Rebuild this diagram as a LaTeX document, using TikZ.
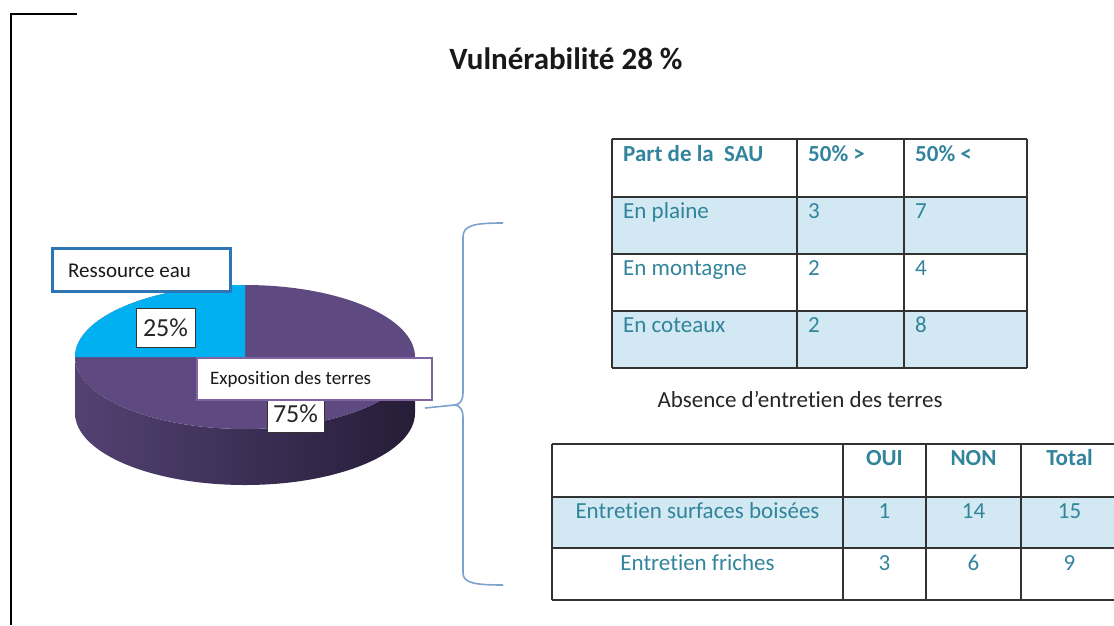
\documentclass[tikz,border=0pt]{standalone}
\usepackage{fontspec}
\setmainfont[Ligatures=NoCommon]{Carlito}
\definecolor{pietop}{RGB}{94,74,128}
\definecolor{pieblue}{RGB}{0,176,240}
\definecolor{sideL}{RGB}{84,66,114}
\definecolor{sideM}{RGB}{60,47,86}
\definecolor{sideR}{RGB}{38,29,55}
\definecolor{tabtxt}{RGB}{49,132,155}
\definecolor{tabshade}{RGB}{210,232,242}
\definecolor{tabline}{RGB}{50,50,50}
\definecolor{bracecol}{RGB}{125,162,205}
\definecolor{boxblue}{RGB}{46,117,182}
\definecolor{boxpurple}{RGB}{128,100,162}
\tikzset{
  tabtext/.style={text=tabtxt, inner sep=0pt, anchor=base west, font=\fontsize{23}{27}\selectfont},
  tabhead/.style={tabtext, font=\fontsize{23}{27}\selectfont\bfseries},
  tabctext/.style={tabtext, anchor=base},
  tabchead/.style={tabhead, anchor=base},
  gridline/.style={draw=tabline, line width=1.6pt},
  bracestyle/.style={draw=bracecol, line width=1.6pt},
  pctbox/.style={draw=black!80, line width=0.9pt, fill=white, inner sep=0pt, font=\fontsize{26}{30}\selectfont, text=black!85},
}
\begin{document}
\begin{tikzpicture}[x=1pt,y=1pt]
\useasboundingbox (0,0) rectangle (1114,-625);
% frame
\draw[line width=1.6pt, black] (77,-14) -- (11,-14) -- (11,-625);
% title
\node[font=\fontsize{31}{35}\selectfont\bfseries, text=black!90, anchor=base, inner sep=0pt] (title) at (566,-69) {Vulnérabilité 28 \%};

% ---- pie ----
\shade[left color=sideL, right color=sideR, middle color=sideM]
  (75,-357) -- ++(0,-56) arc[start angle=180, end angle=360, x radius=170, y radius=72]
  -- ++(0,56) arc[start angle=0, end angle=-180, x radius=170, y radius=72] -- cycle;
\fill[pietop] (245,-357) ellipse [x radius=170, y radius=72];
\fill[pieblue] (245,-357) -- (245,-285) arc[start angle=90, end angle=180, x radius=170, y radius=72] -- cycle;
\coordinate (pieR) at (425,-408);

% labels on pie
\node[draw=boxblue, line width=2.6pt, fill=white, minimum width=178pt, minimum height=43pt, inner sep=0pt] (res) at (141.5,-270) {};
\node[anchor=base west, inner sep=0pt, font=\fontsize{21}{25}\selectfont, text=black!90] (restxt) at (68,-277) {Ressource eau};
\node[pctbox, minimum width=59pt, minimum height=39pt] (p25) at (165.5,-327.5) {25\%};
\node[pctbox, minimum width=57pt, minimum height=44pt, text depth=0pt] (p75) at (295.5,-410) {};
\node[anchor=base, inner sep=0pt, font=\fontsize{26}{30}\selectfont, text=black!85] (p75txt) at (295.5,-422) {75\%};
\node[draw=boxpurple, line width=2.4pt, fill=white, minimum width=235pt, minimum height=42pt, inner sep=0pt] (expo) at (314.5,-379) {};
\node[anchor=base west, inner sep=0pt, font=\fontsize{19}{23}\selectfont, text=black!90] (expotxt) at (210,-384) {Exposition des terres};

% brace and connector
\coordinate (tip) at (455,-405);
\draw[bracestyle] (503,-223) .. controls (475,-223) and (463,-225) .. (463,-237) -- (463,-392)
  .. controls (463,-401) and (460,-404) .. (tip)
  .. controls (460,-406) and (463,-409) .. (463,-418) -- (463,-573)
  .. controls (463,-583) and (475,-585) .. (503,-585);
\draw[bracestyle] (pieR) -- (tip);

% ---- table 1 ----
\fill[tabshade] (612,-197) rectangle (1027,-254);
\fill[tabshade] (612,-311) rectangle (1027,-368);
\foreach \y in {139,197,254,311,368} \draw[gridline] (612,-\y) -- (1027,-\y);
\foreach \x in {612,797,904,1027} \draw[gridline] (\x,-139) -- (\x,-368);
\node[tabhead] (a11) at (623,-161) {Part de la\ \ SAU};
\node[tabhead] (a12) at (808,-161) {50\% >};
\node[tabhead] (a13) at (915,-161) {50\% <};
\node[tabtext] (a21) at (623,-218) {En plaine};
\node[tabtext] (a22) at (808,-218) {3};
\node[tabtext] (a23) at (915,-218) {7};
\node[tabtext] (a31) at (623,-275) {En montagne};
\node[tabtext] (a32) at (808,-275) {2};
\node[tabtext] (a33) at (915,-275) {4};
\node[tabtext] (a41) at (623,-332) {En coteaux};
\node[tabtext] (a42) at (808,-332) {2};
\node[tabtext] (a43) at (915,-332) {8};

% caption
\node[anchor=base, inner sep=0pt, font=\fontsize{23}{27}\selectfont, text=black!85] (cap) at (800,-407) {Absence d’entretien des terres};

% ---- table 2 ----
\fill[tabshade] (552,-497) rectangle (1114,-548);
\foreach \y in {444,497,548,600} \draw[gridline] (552,-\y) -- (1116,-\y);
\foreach \x in {552,843,926,1021} \draw[gridline] (\x,-444) -- (\x,-600);
\node[tabchead] (b12) at (884.5,-465) {OUI};
\node[tabchead] (b13) at (973.5,-465) {NON};
\node[tabchead] (b14) at (1069.5,-465) {Total};
\node[tabctext] (b21) at (697.5,-518) {Entretien surfaces boisées};
\node[tabctext] (b22) at (884.5,-518) {1};
\node[tabctext] (b23) at (973.5,-518) {14};
\node[tabctext] (b24) at (1069.5,-518) {15};
\node[tabctext] (b31) at (697.5,-570) {Entretien friches};
\node[tabctext] (b32) at (884.5,-570) {3};
\node[tabctext] (b33) at (973.5,-570) {6};
\node[tabctext] (b34) at (1069.5,-570) {9};
\end{tikzpicture}
\end{document}
